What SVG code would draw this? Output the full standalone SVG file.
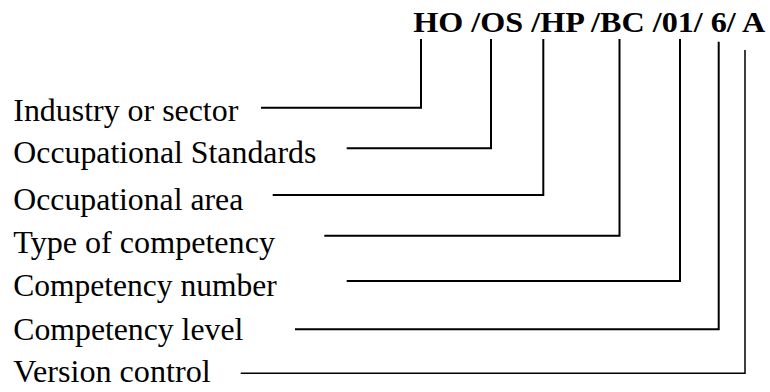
<svg xmlns="http://www.w3.org/2000/svg" width="770" height="392" viewBox="0 0 770 392">
  <style>
    text { font-family: 'Liberation Serif', 'Times New Roman', serif; fill: #000; }
    .code { font-weight: bold; font-size: 30px; }
    .label { font-size: 30.5px; }
    .link { fill: none; stroke: #000; stroke-width: 2; }
    .thin { stroke-width: 1.5; }
  </style>
  <rect width="770" height="392" fill="#fff"/>

  <!-- Code string -->
  <g id="code">
    <text class="code" x="413.3" y="31.7" textLength="352" lengthAdjust="spacingAndGlyphs">HO /OS /HP /BC /01/ 6/ A</text>
  </g>

  <!-- Field labels (set slightly wide) -->
  <g id="industry"><text class="label" x="13.3" y="120.7" textLength="225" lengthAdjust="spacingAndGlyphs">Industry or sector</text></g>
  <g id="standards"><text class="label" x="13.3" y="162.7" textLength="303" lengthAdjust="spacingAndGlyphs">Occupational Standards</text></g>
  <g id="area"><text class="label" x="13.3" y="209.5" textLength="230" lengthAdjust="spacingAndGlyphs">Occupational area</text></g>
  <g id="type"><text class="label" x="13.3" y="253.3" textLength="261.7" lengthAdjust="spacingAndGlyphs">Type of competency</text></g>
  <g id="number"><text class="label" x="13.3" y="296" textLength="263.4" lengthAdjust="spacingAndGlyphs">Competency number</text></g>
  <g id="level"><text class="label" x="13.3" y="340" textLength="230" lengthAdjust="spacingAndGlyphs">Competency level</text></g>
  <g id="version"><text class="label" x="13.3" y="381.7" textLength="197.4" lengthAdjust="spacingAndGlyphs">Version control</text></g>

  <!-- Elbow connectors from each label up to its code segment -->
  <g id="connectors">
    <path class="link" d="M261,107.7 H421 V39"/>
    <path class="link" d="M346.7,148.3 H491 V39"/>
    <path class="link" d="M272.7,195 H543.3 V39"/>
    <path class="link" d="M324.3,235.7 H619.5 V39"/>
    <path class="link" d="M346.7,281 H680 V39"/>
    <path class="link" d="M295,329.3 H718.7 V41.7"/>
    <path class="link thin" d="M240.7,373.3 H745 V50"/>
  </g>
</svg>
